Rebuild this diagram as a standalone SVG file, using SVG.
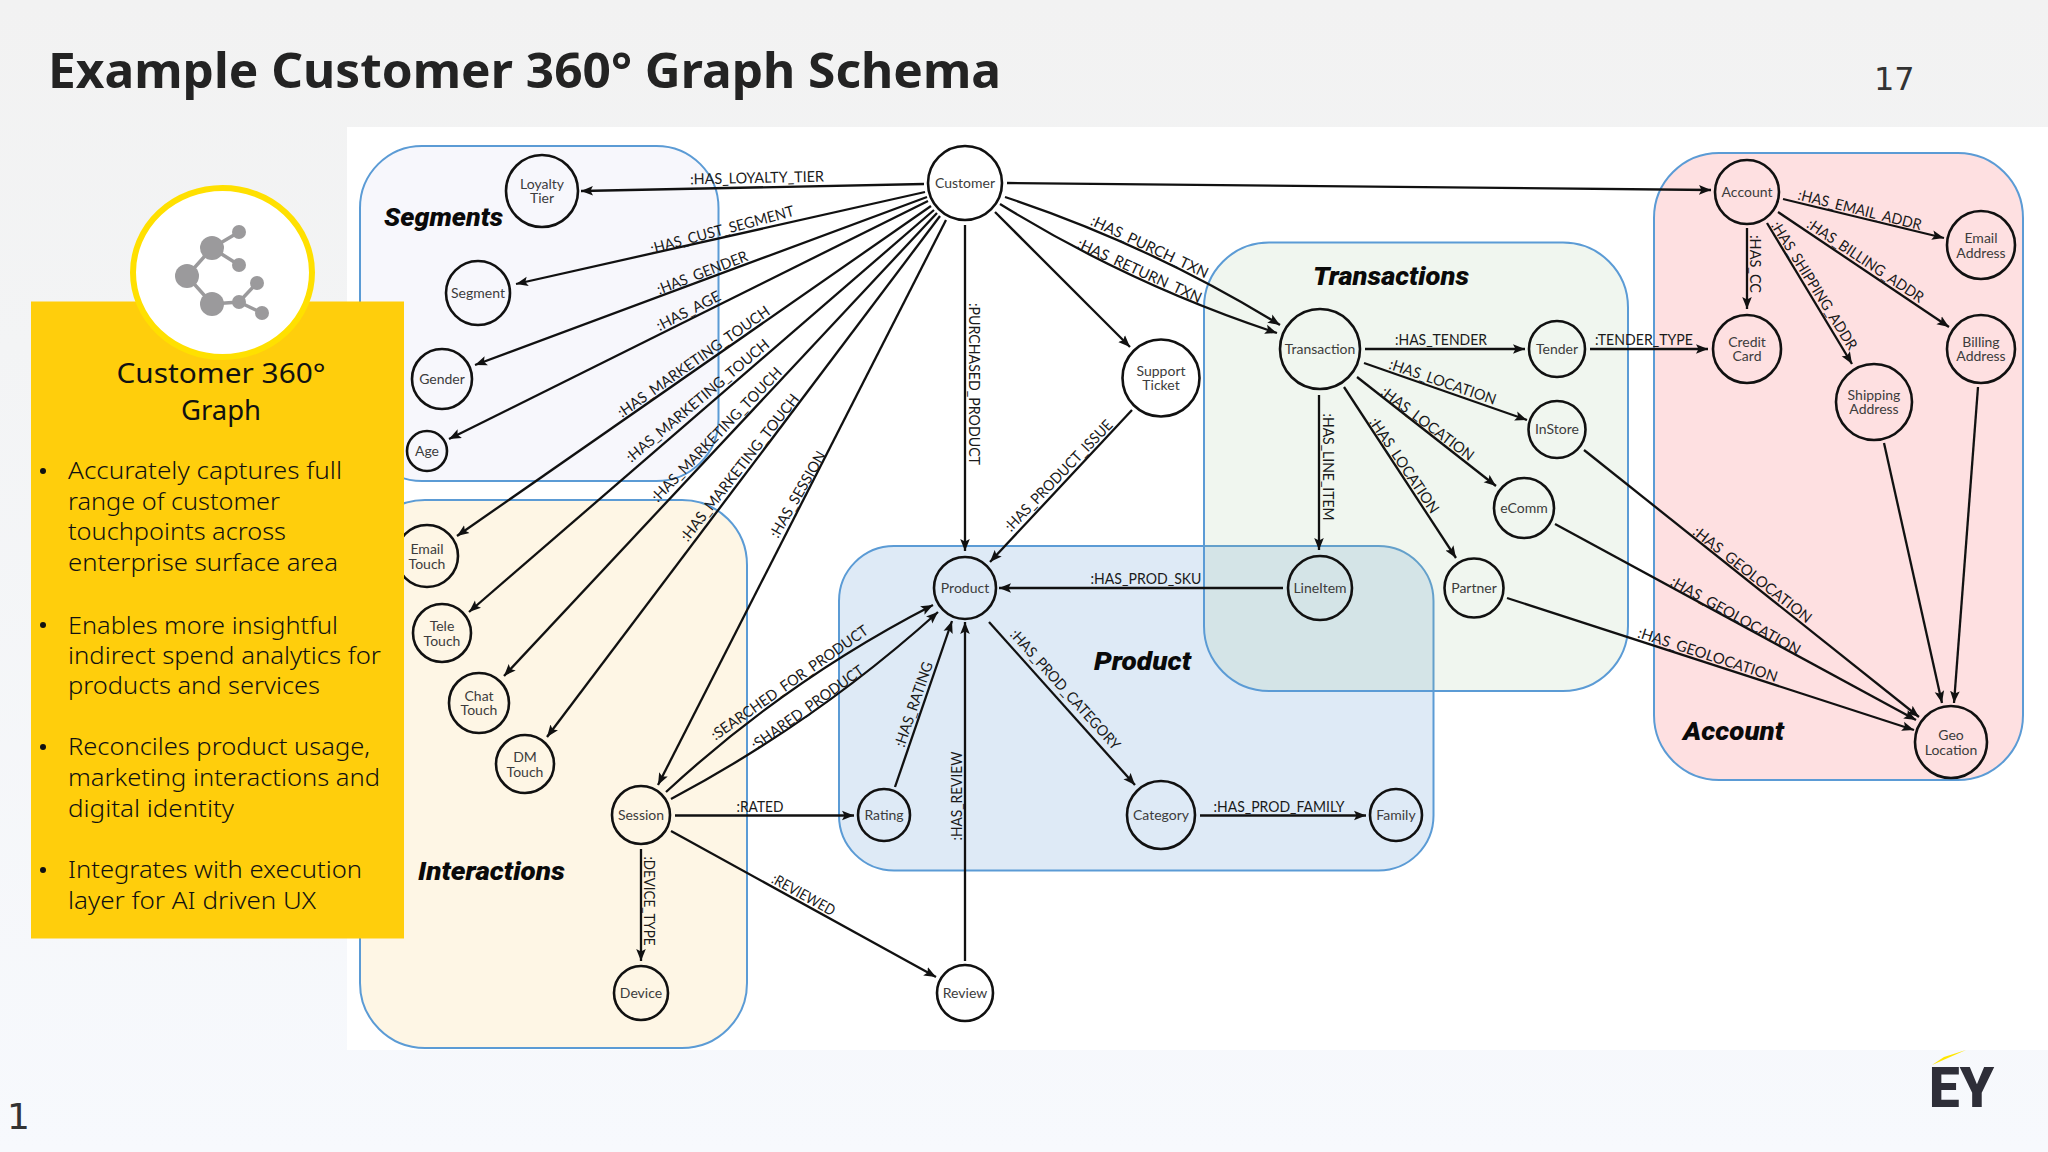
<svg xmlns="http://www.w3.org/2000/svg" width="2048" height="1152" viewBox="0 0 2048 1152">
<style>
.e{stroke:#111;stroke-width:2.3;fill:none;marker-end:url(#arr)}
.l{font-family:Lato,"Liberation Sans",sans-serif;font-size:15px;fill:#1a1a1a;text-anchor:middle;dominant-baseline:central}
.n{stroke:#111;stroke-width:2.6;fill:none}
.t{font-family:Lato,"Liberation Sans",sans-serif;font-size:14px;fill:#3c3c3c;text-anchor:middle}
.g{stroke:#5b9bd5;stroke-width:2}
.gt{font-family:Roboto,"Liberation Sans",sans-serif;font-size:26px;font-weight:900;font-style:italic;fill:#0a0a0a}
.b{font-family:"Noto Sans","Liberation Sans",sans-serif;font-size:24px;font-weight:300;fill:#111}
.h{font-family:"Noto Sans","Liberation Sans",sans-serif;font-size:28px;font-weight:400;fill:#111;text-anchor:middle}
.ic{fill:#9b9a9c}
.il{stroke:#9b9a9c;stroke-width:3.5;fill:none}
</style>
<defs>
<linearGradient id="bg" x1="0" y1="0" x2="0" y2="1"><stop offset="0" stop-color="#f2f2f2"/><stop offset="0.3" stop-color="#f3f4f5"/><stop offset="1" stop-color="#f7f9fd"/></linearGradient>
<marker id="arr" markerUnits="userSpaceOnUse" markerWidth="13" markerHeight="11" refX="12" refY="5.5" orient="auto"><path d="M0 0.7L12 5.5L0 10.3L2.5 5.5Z" fill="#111"/></marker>
</defs>
<rect id="background" width="2048" height="1152" fill="url(#bg)"/>
<rect id="image-panel" x="347" y="127" width="1701" height="923" fill="#fff"/>
<text x="48" y="88" textLength="953" lengthAdjust="spacingAndGlyphs" font-family="'Noto Sans','Liberation Sans',sans-serif" font-size="48" font-weight="700" fill="#232323">Example Customer 360° Graph Schema</text>
<text x="1874" y="90" font-family="'DejaVu Sans',sans-serif" font-size="32" fill="#333">17</text>
<text x="7" y="1129" font-family="'DejaVu Sans',sans-serif" font-size="36" fill="#333">1</text>
<g id="groups">
<g id="group-segments"><rect class="g" x="360" y="146" width="358.5" height="335" rx="62" fill="#f7f7fc"/><text class="gt" x="384" y="226" textLength="119" lengthAdjust="spacingAndGlyphs">Segments</text></g>
<g id="group-interactions"><rect class="g" x="360" y="500" width="387" height="548" rx="65" fill="#fef6e5"/><text class="gt" x="418" y="880" textLength="147" lengthAdjust="spacingAndGlyphs">Interactions</text></g>
<g id="group-product"><rect class="g" x="839" y="546" width="594.5" height="324.5" rx="55" fill="#deeaf6"/><text class="gt" x="1094" y="670" textLength="97" lengthAdjust="spacingAndGlyphs">Product</text></g>
<g id="group-transactions"><rect class="g" x="1204" y="242.5" width="424" height="448.5" rx="65" fill="#99c394" fill-opacity="0.15"/><text class="gt" x="1313" y="285" textLength="156" lengthAdjust="spacingAndGlyphs">Transactions</text></g>
<g id="group-account"><rect class="g" x="1654" y="153" width="369" height="627" rx="65" fill="#fee0e1"/><text class="gt" x="1683" y="740" textLength="101" lengthAdjust="spacingAndGlyphs">Account</text></g>
</g>
<g id="connectors">
<line class="e" x1="924" y1="184" x2="581" y2="191"/><text class="l" transform="rotate(-1.2 757 177)" x="757" y="177" textLength="134" lengthAdjust="spacingAndGlyphs">:HAS_LOYALTY_TIER</text>
<line class="e" x1="925" y1="192" x2="516" y2="284"/><text class="l" transform="rotate(-15 722 229)" x="722" y="229" textLength="148" lengthAdjust="spacingAndGlyphs">:HAS_CUST_SEGMENT</text>
<line class="e" x1="927" y1="197" x2="475" y2="365"/><text class="l" transform="rotate(-21 702 272)" x="702" y="272" textLength="96" lengthAdjust="spacingAndGlyphs">:HAS_GENDER</text>
<line class="e" x1="928" y1="201" x2="449" y2="439"/><text class="l" transform="rotate(-27 688 310)" x="688" y="310" textLength="70" lengthAdjust="spacingAndGlyphs">:HAS_AGE</text>
<line class="e" x1="931" y1="206" x2="457" y2="536"/><text class="l" transform="rotate(-35 693 361)" x="693" y="361" textLength="182" lengthAdjust="spacingAndGlyphs">:HAS_MARKETING_TOUCH</text>
<line class="e" x1="934" y1="210" x2="469" y2="612"/><text class="l" transform="rotate(-40 697 400)" x="697" y="400" textLength="182" lengthAdjust="spacingAndGlyphs">:HAS_MARKETING_TOUCH</text>
<line class="e" x1="937" y1="213" x2="504" y2="676"/><text class="l" transform="rotate(-46 716 434)" x="716" y="434" textLength="180" lengthAdjust="spacingAndGlyphs">:HAS_MARKETING_TOUCH</text>
<line class="e" x1="940" y1="216" x2="547" y2="737"/><text class="l" transform="rotate(-52 739 467)" x="739" y="467" textLength="182" lengthAdjust="spacingAndGlyphs">:HAS_MARKETING_TOUCH</text>
<line class="e" x1="946" y1="220" x2="658" y2="785"/><text class="l" transform="rotate(-60 797 494)" x="797" y="494" textLength="97" lengthAdjust="spacingAndGlyphs">:HAS_SESSION</text>
<line class="e" x1="965" y1="225" x2="965" y2="551"/><text class="l" transform="rotate(90 975 384)" x="975" y="384" textLength="162" lengthAdjust="spacingAndGlyphs">:PURCHASED_PRODUCT</text>
<line class="e" x1="1007" y1="183" x2="1711" y2="190"/>
<path class="e" d="M1005 197Q1150 245 1280 325"/><text class="l" transform="rotate(25 1150 246)" x="1150" y="246" textLength="128" lengthAdjust="spacingAndGlyphs">:HAS_PURCH_TXN</text>
<path class="e" d="M1000 204Q1131 285 1277 333"/><text class="l" transform="rotate(24.5 1140 270)" x="1140" y="270" textLength="135" lengthAdjust="spacingAndGlyphs">:HAS_RETURN_TXN</text>
<line class="e" x1="995" y1="212" x2="1130" y2="347"/>
<line class="e" x1="1132" y1="410" x2="990" y2="562"/><text class="l" transform="rotate(-46 1058 475)" x="1058" y="475" textLength="148" lengthAdjust="spacingAndGlyphs">:HAS_PRODUCT_ISSUE</text>
<line class="e" x1="1365" y1="349" x2="1525" y2="349"/><text class="l" x="1441" y="339" textLength="92" lengthAdjust="spacingAndGlyphs">:HAS_TENDER</text>
<line class="e" x1="1590" y1="349" x2="1708" y2="349"/><text class="l" x="1644" y="339" textLength="98" lengthAdjust="spacingAndGlyphs">:TENDER_TYPE</text>
<line class="e" x1="1364" y1="363" x2="1527" y2="420"/><text class="l" transform="rotate(19 1443 381)" x="1443" y="381" textLength="112" lengthAdjust="spacingAndGlyphs">:HAS_LOCATION</text>
<line class="e" x1="1357" y1="377" x2="1496" y2="486"/><text class="l" transform="rotate(37 1428 423)" x="1428" y="423" textLength="112" lengthAdjust="spacingAndGlyphs">:HAS_LOCATION</text>
<line class="e" x1="1344" y1="387" x2="1456" y2="558"/><text class="l" transform="rotate(56 1405 465)" x="1405" y="465" textLength="112" lengthAdjust="spacingAndGlyphs">:HAS_LOCATION</text>
<line class="e" x1="1319" y1="395" x2="1319" y2="550"/><text class="l" transform="rotate(90 1329 467)" x="1329" y="467" textLength="107" lengthAdjust="spacingAndGlyphs">:HAS_LINE_ITEM</text>
<line class="e" x1="1283" y1="588" x2="999" y2="588"/><text class="l" x="1146" y="578" textLength="111" lengthAdjust="spacingAndGlyphs">:HAS_PROD_SKU</text>
<line class="e" x1="1783" y1="199" x2="1944" y2="238"/><text class="l" transform="rotate(14 1860 209)" x="1860" y="209" textLength="127" lengthAdjust="spacingAndGlyphs">:HAS_EMAIL_ADDR</text>
<line class="e" x1="1778" y1="212" x2="1949" y2="327"/><text class="l" transform="rotate(34 1866 260)" x="1866" y="260" textLength="137" lengthAdjust="spacingAndGlyphs">:HAS_BILLING_ADDR</text>
<line class="e" x1="1767" y1="223" x2="1852" y2="364"/><text class="l" transform="rotate(58 1815 285)" x="1815" y="285" textLength="148" lengthAdjust="spacingAndGlyphs">:HAS_SHIPPING_ADDR</text>
<line class="e" x1="1747" y1="228" x2="1747" y2="309"/><text class="l" transform="rotate(90 1756 264)" x="1756" y="264" textLength="58" lengthAdjust="spacingAndGlyphs">:HAS_CC</text>
<line class="e" x1="1584" y1="450" x2="1919" y2="717"/><text class="l" transform="rotate(38 1753 574)" x="1753" y="574" textLength="146" lengthAdjust="spacingAndGlyphs">:HAS_GEOLOCATION</text>
<line class="e" x1="1555" y1="524" x2="1916" y2="720"/><text class="l" transform="rotate(29 1736 615)" x="1736" y="615" textLength="146" lengthAdjust="spacingAndGlyphs">:HAS_GEOLOCATION</text>
<line class="e" x1="1507" y1="598" x2="1914" y2="730"/><text class="l" transform="rotate(18 1708 654)" x="1708" y="654" textLength="146" lengthAdjust="spacingAndGlyphs">:HAS_GEOLOCATION</text>
<line class="e" x1="1884" y1="443" x2="1942" y2="703"/>
<line class="e" x1="1978" y1="387" x2="1954" y2="703"/>
<path class="e" d="M666 792Q787 680 933 605"/><text class="l" transform="rotate(-35 789 682)" x="789" y="682" textLength="188" lengthAdjust="spacingAndGlyphs">:SEARCHED_FOR_PRODUCT</text>
<path class="e" d="M671 799Q816 722 938 612"/><text class="l" transform="rotate(-35.5 807 707)" x="807" y="707" textLength="134" lengthAdjust="spacingAndGlyphs">:SHARED_PRODUCT</text>
<line class="e" x1="895" y1="787" x2="952" y2="621"/><text class="l" transform="rotate(-71 913 704)" x="913" y="704" textLength="89" lengthAdjust="spacingAndGlyphs">:HAS_RATING</text>
<line class="e" x1="965" y1="961" x2="965" y2="622"/><text class="l" transform="rotate(-90 956 796)" x="956" y="796" textLength="89" lengthAdjust="spacingAndGlyphs">:HAS_REVIEW</text>
<line class="e" x1="675" y1="815.5" x2="854" y2="815.5"/><text class="l" x="760" y="806" textLength="47" lengthAdjust="spacingAndGlyphs">:RATED</text>
<line class="e" x1="671" y1="831" x2="936" y2="977"/><text class="l" transform="rotate(29 804 894)" x="804" y="894" textLength="70" lengthAdjust="spacingAndGlyphs">:REVIEWED</text>
<line class="e" x1="641" y1="849" x2="641" y2="961"/><text class="l" transform="rotate(90 650 901)" x="650" y="901" textLength="89" lengthAdjust="spacingAndGlyphs">:DEVICE_TYPE</text>
<line class="e" x1="989" y1="622" x2="1135" y2="785"/><text class="l" transform="rotate(48 1066 689)" x="1066" y="689" textLength="156" lengthAdjust="spacingAndGlyphs">:HAS_PROD_CATEGORY</text>
<line class="e" x1="1200" y1="815.5" x2="1366" y2="815.5"/><text class="l" x="1279" y="806" textLength="131" lengthAdjust="spacingAndGlyphs">:HAS_PROD_FAMILY</text>
</g>
<g id="nodes">
<g id="node-customer"><circle class="n" cx="965" cy="183" r="37"/><text class="t" x="965" y="188">Customer</text></g>
<g id="node-loyalty-tier"><circle class="n" cx="542" cy="191" r="36"/><text class="t" x="542" y="189">Loyalty</text><text class="t" x="542" y="203">Tier</text></g>
<g id="node-segment"><circle class="n" cx="478" cy="293" r="32"/><text class="t" x="478" y="298">Segment</text></g>
<g id="node-gender"><circle class="n" cx="442" cy="379" r="30"/><text class="t" x="442" y="384">Gender</text></g>
<g id="node-age"><circle class="n" cx="427" cy="451" r="20"/><text class="t" x="427" y="456">Age</text></g>
<g id="node-email-touch"><circle class="n" cx="427" cy="556" r="31"/><text class="t" x="427" y="554">Email</text><text class="t" x="427" y="569">Touch</text></g>
<g id="node-tele-touch"><circle class="n" cx="442" cy="633" r="29"/><text class="t" x="442" y="631">Tele</text><text class="t" x="442" y="646">Touch</text></g>
<g id="node-chat-touch"><circle class="n" cx="479" cy="703" r="30"/><text class="t" x="479" y="701">Chat</text><text class="t" x="479" y="715">Touch</text></g>
<g id="node-dm-touch"><circle class="n" cx="525" cy="764" r="29"/><text class="t" x="525" y="762">DM</text><text class="t" x="525" y="777">Touch</text></g>
<g id="node-session"><circle class="n" cx="641" cy="815" r="29"/><text class="t" x="641" y="820">Session</text></g>
<g id="node-device"><circle class="n" cx="641" cy="993" r="27"/><text class="t" x="641" y="998">Device</text></g>
<g id="node-product"><circle class="n" cx="965" cy="588" r="31"/><text class="t" x="965" y="593">Product</text></g>
<g id="node-rating"><circle class="n" cx="884" cy="815" r="26"/><text class="t" x="884" y="820">Rating</text></g>
<g id="node-review"><circle class="n" cx="965" cy="993" r="28"/><text class="t" x="965" y="998">Review</text></g>
<g id="node-category"><circle class="n" cx="1161" cy="815" r="34"/><text class="t" x="1161" y="820">Category</text></g>
<g id="node-family"><circle class="n" cx="1396" cy="815" r="26"/><text class="t" x="1396" y="820">Family</text></g>
<g id="node-support-ticket"><circle class="n" cx="1161" cy="378" r="38.5"/><text class="t" x="1161" y="376">Support</text><text class="t" x="1161" y="390">Ticket</text></g>
<g id="node-transaction"><circle class="n" cx="1320" cy="349" r="40"/><text class="t" x="1320" y="354">Transaction</text></g>
<g id="node-tender"><circle class="n" cx="1557" cy="349" r="28"/><text class="t" x="1557" y="354">Tender</text></g>
<g id="node-instore"><circle class="n" cx="1557" cy="429.5" r="28.5"/><text class="t" x="1557" y="434">InStore</text></g>
<g id="node-ecomm"><circle class="n" cx="1524" cy="508" r="30"/><text class="t" x="1524" y="513">eComm</text></g>
<g id="node-partner"><circle class="n" cx="1474" cy="588" r="29.5"/><text class="t" x="1474" y="593">Partner</text></g>
<g id="node-lineitem"><circle class="n" cx="1320" cy="588" r="32"/><text class="t" x="1320" y="593">LineItem</text></g>
<g id="node-account"><circle class="n" cx="1747" cy="192" r="32"/><text class="t" x="1747" y="197">Account</text></g>
<g id="node-credit-card"><circle class="n" cx="1747" cy="349" r="34"/><text class="t" x="1747" y="347">Credit</text><text class="t" x="1747" y="361">Card</text></g>
<g id="node-email-address"><circle class="n" cx="1981" cy="245" r="34"/><text class="t" x="1981" y="243">Email</text><text class="t" x="1981" y="258">Address</text></g>
<g id="node-billing-address"><circle class="n" cx="1981" cy="349" r="34"/><text class="t" x="1981" y="347">Billing</text><text class="t" x="1981" y="361">Address</text></g>
<g id="node-shipping-address"><circle class="n" cx="1874" cy="402" r="38"/><text class="t" x="1874" y="400">Shipping</text><text class="t" x="1874" y="414">Address</text></g>
<g id="node-geo-location"><circle class="n" cx="1951" cy="742" r="36"/><text class="t" x="1951" y="740">Geo</text><text class="t" x="1951" y="755">Location</text></g>
</g>
<g id="info-panel">
<rect x="31" y="301.5" width="373" height="637" fill="#ffce0c"/>
<ellipse cx="222.5" cy="272.5" rx="89.5" ry="84.5" fill="#fff" stroke="#ffe000" stroke-width="6"/>
<g id="molecule-icon">
<path class="il" d="M239 232L212 248L239 265M212 248L187 276L212 304L239 302L257 283M239 302L262 313"/>
<circle class="ic" cx="212" cy="248" r="12"/><circle class="ic" cx="239" cy="232" r="7"/><circle class="ic" cx="239" cy="265" r="7"/><circle class="ic" cx="187" cy="276" r="12"/><circle class="ic" cx="212" cy="304" r="12"/><circle class="ic" cx="239" cy="302" r="7"/><circle class="ic" cx="257" cy="283" r="7"/><circle class="ic" cx="262" cy="313" r="7"/>
</g>
<text class="h" x="221" y="383" textLength="209" lengthAdjust="spacingAndGlyphs">Customer 360°</text>
<text class="h" x="221" y="420" textLength="80" lengthAdjust="spacingAndGlyphs">Graph</text>
<circle cx="43" cy="471" r="3" fill="#111"/><circle cx="43" cy="625" r="3" fill="#111"/><circle cx="43" cy="747" r="3" fill="#111"/><circle cx="43" cy="870" r="3" fill="#111"/>
<text class="b" x="68" y="478.5" textLength="274" lengthAdjust="spacingAndGlyphs">Accurately captures full</text>
<text class="b" x="68" y="510" textLength="212" lengthAdjust="spacingAndGlyphs">range of customer</text>
<text class="b" x="68" y="540" textLength="218" lengthAdjust="spacingAndGlyphs">touchpoints across</text>
<text class="b" x="68" y="570.5" textLength="270" lengthAdjust="spacingAndGlyphs">enterprise surface area</text>
<text class="b" x="68" y="634" textLength="270" lengthAdjust="spacingAndGlyphs">Enables more insightful</text>
<text class="b" x="68" y="663.5" textLength="313" lengthAdjust="spacingAndGlyphs">indirect spend analytics for</text>
<text class="b" x="68" y="693.5" textLength="252" lengthAdjust="spacingAndGlyphs">products and services</text>
<text class="b" x="68" y="755" textLength="302" lengthAdjust="spacingAndGlyphs">Reconciles product usage,</text>
<text class="b" x="68" y="786" textLength="312" lengthAdjust="spacingAndGlyphs">marketing interactions and</text>
<text class="b" x="68" y="816.5" textLength="166" lengthAdjust="spacingAndGlyphs">digital identity</text>
<text class="b" x="68" y="878" textLength="294" lengthAdjust="spacingAndGlyphs">Integrates with execution</text>
<text class="b" x="68" y="908.5" textLength="248" lengthAdjust="spacingAndGlyphs">layer for AI driven UX</text>
</g>
<g id="ey-logo">
<path d="M1932 1065L1966 1050L1944 1057Z" fill="#ffe600"/>
<text x="1929" y="1107" textLength="65" lengthAdjust="spacingAndGlyphs" font-family="Roboto,'Liberation Sans',sans-serif" font-size="55" font-weight="900" fill="#2e2e38">EY</text>
</g>
</svg>
